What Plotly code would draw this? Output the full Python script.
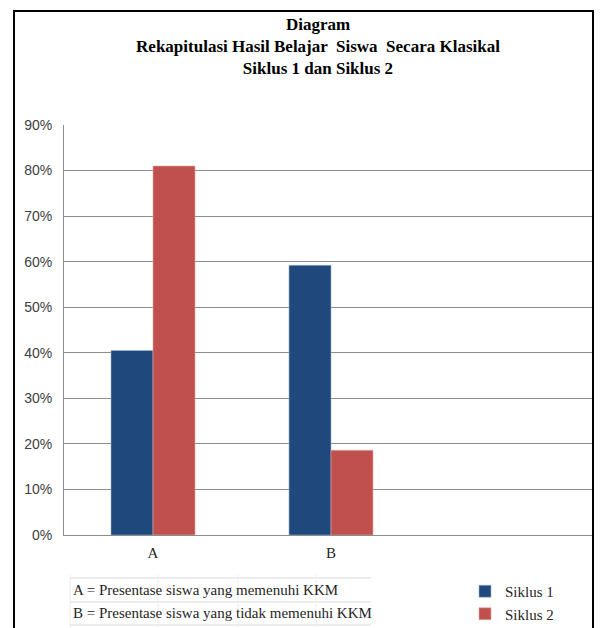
import plotly.graph_objects as go

categories = ["A", "B"]
siklus1 = [0.405, 0.592]
siklus2 = [0.81, 0.186]
series_names = ["Siklus 1", "Siklus 2"]
y_ticks = [0, 0.1, 0.2, 0.3, 0.4, 0.5, 0.6, 0.7, 0.8, 0.9]
notes = ["A = Presentase siswa yang memenuhi KKM",
         "B = Presentase siswa yang tidak memenuhi KKM"]

W, H = 600, 628
L, R, T, B = 64, 2, 125, 93
pw, ph = W - L - R, H - T - B

def px(x):
    return (x - L) / pw

def py(y):
    return (H - B - y) / ph

fig = go.Figure()
fig.add_trace(go.Bar(x=categories, y=siklus1, name=series_names[0],
                     marker=dict(color="#1F497D", line=dict(color="#9fb3cf", width=0.6))))
fig.add_trace(go.Bar(x=categories, y=siklus2, name=series_names[1],
                     marker=dict(color="#C0504D", line=dict(color="#e6a6a4", width=0.6))))

shapes = []
# white strip outside the chart frame on the right
shapes.append(dict(type="rect", xref="paper", yref="paper",
                   x0=px(594), x1=px(601), y0=py(640), y1=py(0),
                   line=dict(width=0), fillcolor="white", layer="above"))
# outer chart border
shapes.append(dict(type="rect", xref="paper", yref="paper",
                   x0=px(14), x1=px(593), y0=py(660), y1=py(11),
                   line=dict(color="black", width=2), layer="above"))
# table lines
for yy in [578, 602, 625]:
    shapes.append(dict(type="line", xref="paper", yref="paper",
                       x0=px(70), x1=px(371), y0=py(yy), y1=py(yy),
                       line=dict(color="#d9d9d9", width=1)))
for xx in [70, 158, 238, 316]:
    shapes.append(dict(type="line", xref="paper", yref="paper",
                       x0=px(xx), x1=px(xx), y0=py(575), y1=py(628),
                       line=dict(color="#ededed", width=1)))

annotations = []
for i, t in enumerate(notes):
    annotations.append(dict(text=t, xref="paper", yref="paper",
                            x=px(71), y=py(590 + 23 * i), xanchor="left", yanchor="middle",
                            showarrow=False,
                            font=dict(family="Liberation Serif", size=15, color="#262626")))

fig.update_layout(
    width=W, height=H,
    margin=dict(l=L, r=R, t=T, b=B, autoexpand=False),
    paper_bgcolor="white", plot_bgcolor="white",
    barmode="group", bargap=0.528, bargroupgap=0,
    title=dict(text="Diagram<br>Rekapitulasi Hasil Belajar  Siswa  Secara Klasikal<br>Siklus 1 dan Siklus 2",
               xref="container", yref="container", x=318 / W, xanchor="center",
               y=1 - 30 / H, yanchor="top",
               font=dict(family="Liberation Serif", size=17, color="black", weight="bold")),
    xaxis=dict(type="category", range=[-0.5, 2.5], showgrid=False,
               showline=True, linecolor="#8c8c8c", linewidth=1,
               ticks="", ticklabelstandoff=4,
               tickfont=dict(family="Liberation Serif", size=15, color="#262626")),
    yaxis=dict(range=[0, 0.9], tickvals=y_ticks, tickformat=".0%",
               showgrid=True, gridcolor="#8c8c8c", gridwidth=1,
               showline=True, linecolor="#8c8c8c", linewidth=1,
               ticks="", ticklabelstandoff=8, zeroline=False,
               tickfont=dict(family="Liberation Sans", size=14, color="#404040")),
    legend=dict(xref="container", yref="container",
                x=465 / W, y=1 - 575 / H, xanchor="left", yanchor="top",
                orientation="v", itemwidth=30, bgcolor="rgba(0,0,0,0)",
                font=dict(family="Liberation Serif", size=15, color="#262626"),
                tracegroupgap=0),
    shapes=shapes, annotations=annotations,
)

fig.write_html("out.html")
